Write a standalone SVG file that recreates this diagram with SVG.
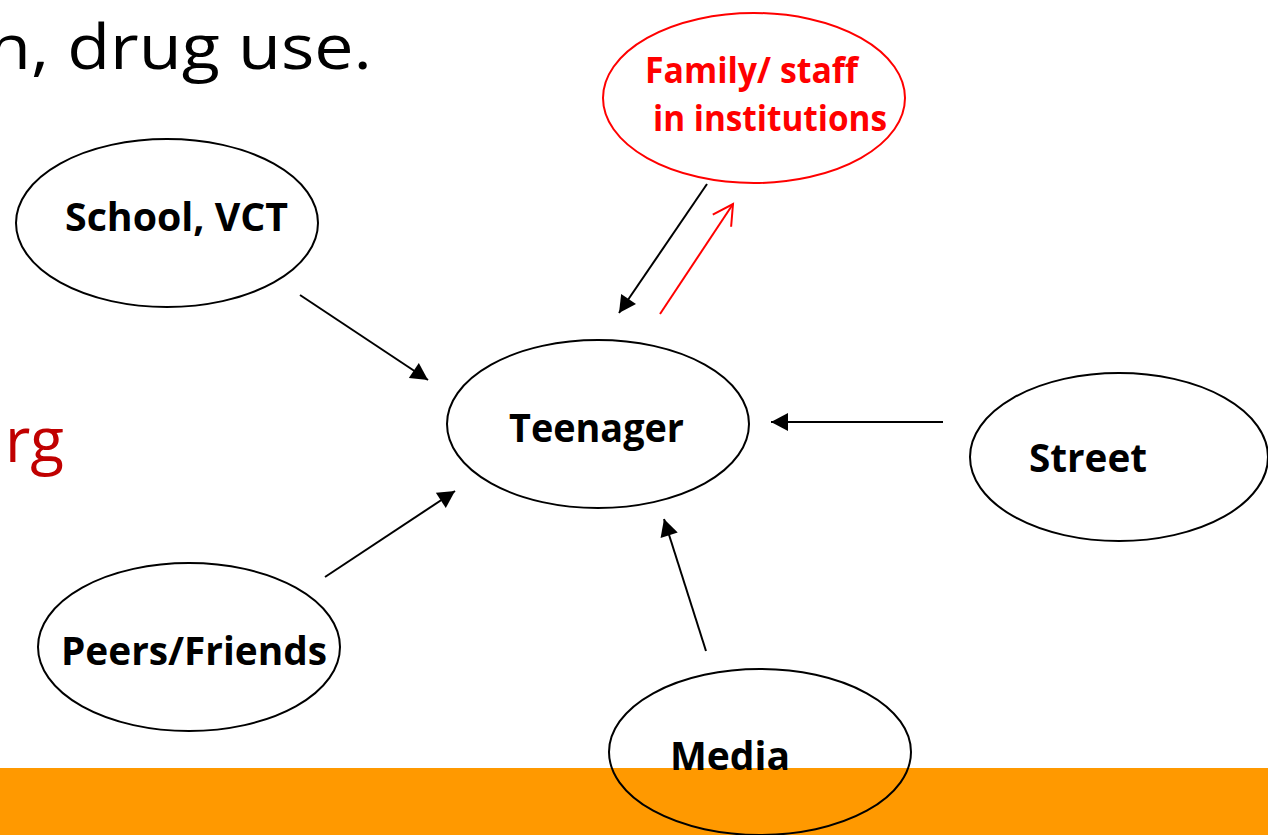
<svg xmlns="http://www.w3.org/2000/svg" width="1268" height="835" viewBox="0 0 1268 835">
<defs>
<style>
.ell{fill:none;stroke:#000;stroke-width:2}
.lbl{font-family:"Open Sans","Liberation Sans",sans-serif;font-weight:bold;font-size:40px;fill:#000}
.red{fill:#FF0000;font-size:35px}
.conn{stroke:#000;stroke-width:2;fill:none;marker-end:url(#ah)}
.big{font-family:"Open Sans","Liberation Sans",sans-serif;font-size:62px}
</style>
<marker id="ah" markerUnits="userSpaceOnUse" markerWidth="18" markerHeight="18" refX="17" refY="9" orient="auto" overflow="visible">
<path d="M0,0 L17,9 L0,18 z" fill="#000"/>
</marker>
<marker id="open" markerUnits="userSpaceOnUse" markerWidth="22" markerHeight="24" refX="20" refY="11" orient="auto" overflow="visible">
<path d="M0,0 L20,11 L0,22" fill="none" stroke="#FF0000" stroke-width="2"/>
</marker>
</defs>
<rect width="1268" height="835" fill="#fff"/>
<rect x="0" y="768" width="1268" height="67" fill="#FF9900"/>
<text class="big" x="-12" y="69" textLength="384" lengthAdjust="spacingAndGlyphs" fill="#000">n, drug use.</text>
<text class="big" x="64" y="462" text-anchor="end" fill="#C00000" font-size="58">urg</text>
<g id="connectors">
<line class="conn" x1="300" y1="295" x2="428" y2="380"/>
<line class="conn" x1="325" y1="577" x2="455" y2="491"/>
<line class="conn" x1="706" y1="651" x2="664" y2="519"/>
<line class="conn" x1="943" y1="422" x2="771" y2="422"/>
<line class="conn" x1="707" y1="184" x2="619" y2="313"/>
<line x1="660" y1="314" x2="733" y2="204" stroke="#FF0000" stroke-width="2" marker-end="url(#open)"/>
</g>
<g id="school">
<ellipse class="ell" cx="167" cy="223" rx="151" ry="84"/>
<text class="lbl" x="65" y="231" textLength="223" lengthAdjust="spacingAndGlyphs">School, VCT</text>
</g>
<g id="teenager">
<ellipse class="ell" cx="598" cy="424" rx="151" ry="84"/>
<text class="lbl" x="509" y="442" textLength="175" lengthAdjust="spacingAndGlyphs">Teenager</text>
</g>
<g id="street">
<ellipse class="ell" cx="1119" cy="457" rx="149" ry="84"/>
<text class="lbl" x="1029" y="472" textLength="118" lengthAdjust="spacingAndGlyphs">Street</text>
</g>
<g id="peers">
<ellipse class="ell" cx="189" cy="647" rx="151" ry="84"/>
<text class="lbl" x="61" y="665" textLength="266" lengthAdjust="spacingAndGlyphs">Peers/Friends</text>
</g>
<g id="media">
<ellipse class="ell" cx="760" cy="752" rx="151" ry="83"/>
<text class="lbl" x="670" y="770" textLength="120" lengthAdjust="spacingAndGlyphs">Media</text>
</g>
<g id="family">
<ellipse cx="754" cy="98" rx="151" ry="85" fill="none" stroke="#FF0000" stroke-width="2"/>
<text class="lbl red" x="645" y="83" textLength="213" lengthAdjust="spacingAndGlyphs">Family/ staff</text>
<text class="lbl red" x="653" y="131" textLength="234" lengthAdjust="spacingAndGlyphs">in institutions</text>
</g>
</svg>
